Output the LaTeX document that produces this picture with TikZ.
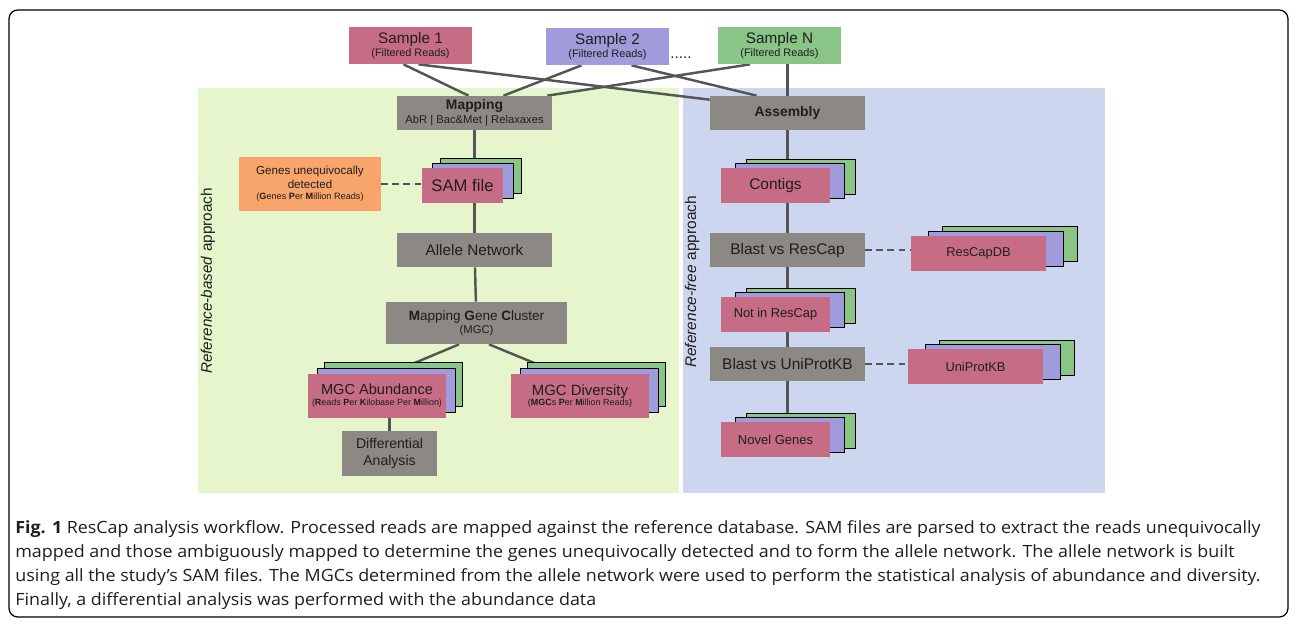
\documentclass[tikz,border=0pt]{standalone}
\usepackage{fontspec}
\setmainfont{Liberation Sans}
\newfontfamily\capfont[FakeStretch=1.06]{Open Sans}
\usetikzlibrary{shadows}

\definecolor{pinkc}{RGB}{198,109,133}
\definecolor{purc}{RGB}{160,155,219}
\definecolor{grnc}{RGB}{136,197,135}
\definecolor{grayc}{RGB}{140,137,133}
\definecolor{orc}{RGB}{248,165,107}
\definecolor{bggreen}{RGB}{230,245,203}
\definecolor{bgblue}{RGB}{204,214,238}
\definecolor{linec}{RGB}{85,85,85}
\definecolor{textc}{RGB}{30,30,30}

\pgfdeclarelayer{background}
\pgfdeclarelayer{edges}
\pgfsetlayers{background,edges,main}

\newcommand{\setfs}[2]{\fontsize{#1}{#2}\selectfont}

\begin{document}
\begin{tikzpicture}[x=0.02cm, y=-0.02cm,
    box/.style={rectangle, inner sep=0pt, text=textc, align=center},
    pinkbox/.style={box, fill=pinkc},
    graybox/.style={box, fill=grayc},
    cards/.style n args={4}{pinkbox,
        copy shadow={fill=grnc, shadow xshift=#3, shadow yshift=#4},
        copy shadow={fill=purc, shadow xshift=#1, shadow yshift=#2}},
    sample/.style={box, minimum width=2.46cm, minimum height=0.74cm, font=\setfs{8.7}{7.1}},
    link/.style={draw=linec, line width=1.4pt},
    dashlink/.style={link, dash pattern=on 3.7pt off 2.6pt},
    captxt/.style={anchor=base west, inner sep=0pt, text=textc, font=\capfont\setfs{9.6}{11}}]
    \useasboundingbox (0,0) rectangle (1296,623);

    % Samples
    \node[sample, fill=pinkc] (s1) at (410.5,45.5) {Sample 1\\{\setfs{6.2}{7.1}(Filtered Reads)}};
    \node[sample, fill=purc] (s2) at (607.5,46.5) {Sample 2\\{\setfs{6.2}{7.1}(Filtered Reads)}};
    \node[sample, fill=grnc] (sN) at (779.5,45.5) {Sample N\\{\setfs{6.2}{7.1}(Filtered Reads)}};
    \node[box, font=\setfs{8.7}{10}] (dots) at (681,58) {.....};

    % Reference-based side
    \node[graybox, minimum width=3.1cm, minimum height=0.68cm, font=\setfs{7.9}{8.1}] (map) at (474.5,113)
        {\textbf{Mapping}\\{\setfs{6.4}{8.1}AbR \textbar{} Bac\&Met \textbar{} Relaxaxes}};
    \node[cards={5.7pt}{2.8pt}{10.2pt}{5.7pt}, minimum width=1.62cm, minimum height=0.7cm,
        font=\setfs{9.5}{11}] (sam) at (462.5,185.5) {SAM file};
    \node[box, fill=orc, minimum width=2.84cm, minimum height=1.08cm, font=\setfs{6.6}{7.9}] (gud) at (310,184)
        {Genes unequivocally\\detected\\[-1.8pt]{\setfs{5.2}{6}(\textbf{G}enes \textbf{P}er \textbf{M}illion Reads)}};
    \node[graybox, minimum width=3.1cm, minimum height=0.68cm, font=\setfs{8.7}{10}] (allele) at (474.5,250)
        {Allele Network};
    \node[graybox, minimum width=3.62cm, minimum height=0.84cm, font=\setfs{7.7}{7.6}] (mgc) at (476.5,323)
        {\textbf{M}apping \textbf{G}ene \textbf{C}luster\\{\setfs{6.4}{7.6}(MGC)}};
    \node[cards={5.1pt}{3.4pt}{9.1pt}{6.8pt}, minimum width=2.76cm, minimum height=0.88cm,
        font=\setfs{8.3}{6.2}] (abun) at (377,396)
        {MGC Abundance\\{\setfs{5.1}{6.2}(\textbf{R}eads \textbf{P}er \textbf{K}ilobase Per \textbf{M}illion)}};
    \node[cards={5.1pt}{3.4pt}{9.1pt}{6.8pt}, minimum width=2.76cm, minimum height=0.88cm,
        font=\setfs{8.5}{6.2}] (div) at (580,396)
        {MGC Diversity\\{\setfs{5.1}{6.2}(\textbf{MGC}s \textbf{P}er \textbf{M}illion Reads)}};
    \node[graybox, minimum width=1.9cm, minimum height=0.9cm, font=\setfs{8}{9.3}] (diff) at (389.5,453.5)
        {Differential\\Analysis};

    % Reference-free side
    \node[graybox, minimum width=3.1cm, minimum height=0.68cm, font=\setfs{7.9}{9}\bfseries] (asm) at (787.5,113)
        {Assembly};
    \node[cards={7.9pt}{2.8pt}{14.2pt}{5.1pt}, minimum width=2.18cm, minimum height=0.7cm,
        font=\setfs{8.8}{10}] (con) at (775.5,185.5) {Contigs};
    \node[graybox, minimum width=3.1cm, minimum height=0.68cm, font=\setfs{8.8}{10}] (brc) at (787.5,250)
        {Blast vs ResCap};
    \node[cards={9.6pt}{2.8pt}{17.6pt}{5.7pt}, minimum width=2.7cm, minimum height=0.7cm,
        font=\setfs{7.3}{9}] (rdb) at (978.5,253.5) {ResCapDB};
    \node[cards={7.9pt}{2.8pt}{14.2pt}{5.1pt}, minimum width=2.18cm, minimum height=0.7cm,
        font=\setfs{7.3}{9}] (nir) at (775.5,314.5) {Not in ResCap};
    \node[graybox, minimum width=3.1cm, minimum height=0.68cm, font=\setfs{8.8}{10}] (buk) at (787.5,364)
        {Blast vs UniProtKB};
    \node[cards={9.6pt}{2.8pt}{17.6pt}{5.1pt}, minimum width=2.7cm, minimum height=0.7cm,
        font=\setfs{7.3}{9}] (upk) at (975.5,366.5) {UniProtKB};
    \node[cards={7.9pt}{2.8pt}{14.2pt}{5.1pt}, minimum width=2.18cm, minimum height=0.7cm,
        font=\setfs{7.4}{9}] (nov) at (775.5,439.5) {Novel Genes};

    % Side labels
    \node[box, rotate=90, font=\setfs{8.7}{10}] (refb) at (208,281) {\textit{Reference-based} approach};
    \node[box, rotate=90, font=\setfs{8.8}{10}] (reff) at (692,282) {\textit{Reference-free} approach};

    % Shaded regions
    \begin{pgfonlayer}{background}
        \fill[bggreen] (198,88) rectangle (679,493);
        \fill[bgblue] (683,88) rectangle (1105,493);
    \end{pgfonlayer}

    % Connectors
    \begin{pgfonlayer}{edges}
        \draw[link] ([shift={(-7,0)}]s1.south) -- ([shift={(-6,0)}]map.north);
        \draw[link] ([shift={(8,0)}]s1.south) -- ([shift={(0,4)}]asm.north west);
        \draw[link] ([shift={(-26,0)}]s2.south) -- ([shift={(29,0)}]map.north);
        \draw[link] ([shift={(24,0)}]s2.south) -- ([shift={(-31,0)}]asm.north);
        \draw[link] ([shift={(-29.5,0)}]sN.south) -- ([shift={(-5,0)}]map.north east);
        \draw[link] (sN.south -| asm) -- (asm);
        \draw[link] (map) -- (map |- sam);
        \draw[link] (allele |- sam) -- (allele);
        \draw[link] (allele) -- (mgc);
        \draw[link] ([shift={(-17.5,0)}]mgc.south) -- ([shift={(28,-29)}]abun.center);
        \draw[link] ([shift={(12.5,0)}]mgc.south) -- ([shift={(-36,-29)}]div.center);
        \draw[link] (diff |- abun) -- (diff);
        \draw[dashlink] (gud) -- (gud -| sam);
        \draw[link] (asm) -- (asm |- con);
        \draw[link] (brc |- con) -- (brc);
        \draw[link] (brc) -- (brc |- nir);
        \draw[link] (buk |- nir) -- (buk);
        \draw[link] (buk) -- (buk |- nov);
        \draw[dashlink] (brc) -- (brc -| rdb);
        \draw[dashlink] (buk) -- (buk -| upk);
    \end{pgfonlayer}

    % Caption and frame
    \node[captxt] (cap1) at (15,533) {\textbf{Fig. 1} ResCap analysis workflow. Processed reads are mapped against the reference database. SAM files are parsed to extract the reads unequivocally};
    \node[captxt] (cap2) at (15,557) {mapped and those ambiguously mapped to determine the genes unequivocally detected and to form the allele network. The allele network is built};
    \node[captxt] (cap3) at (15,581) {using all the study’s SAM files. The MGCs determined from the allele network were used to perform the statistical analysis of abundance and diversity.};
    \node[captxt] (cap4) at (15,605) {Finally, a differential analysis was performed with the abundance data};
    \draw[line width=0.7pt, rounded corners=5pt] (9,10) rectangle (1288,617);
\end{tikzpicture}
\end{document}
